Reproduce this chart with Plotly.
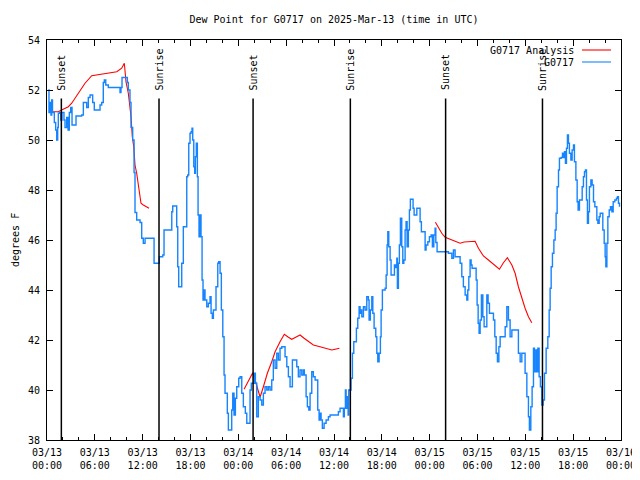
import pandas as pd
import plotly.graph_objects as go

START = "2025-03-13 00:00"
END = "2025-03-16 00:00"

# Observed dew point (G0717): hours after 2025-03-13 00:00 UTC, degrees F
obs_hours = [0.16, 0.25, 0.38, 0.50, 0.59, 0.69, 0.84, 0.92, 1.09, 1.22, 1.34, 1.42, 1.57, 1.72, 1.88,
             2.13, 2.26, 2.47, 2.64, 2.80, 2.97, 3.14, 3.30, 3.64, 4.35, 4.56, 4.77, 4.98, 5.18, 5.40,
             5.61, 5.73, 5.93, 6.44, 6.65, 6.86, 7.06, 7.19, 7.37, 7.69, 8.95, 9.16, 9.28, 9.41, 9.91,
             10.08, 10.20, 10.41, 10.54, 10.75, 10.92, 11.04, 11.25, 11.67, 11.88, 12.08, 12.30, 13.26,
             13.43, 13.96, 14.09, 14.52, 14.68, 15.43, 15.65, 15.77, 16.19, 16.27, 16.40, 16.52, 16.72,
             16.90, 17.10, 17.31, 17.53, 17.65, 17.78, 17.94, 18.07, 18.19, 18.28, 18.41, 18.53, 18.61,
             18.73, 18.86, 18.95, 19.07, 19.20, 19.32, 19.45, 19.57, 19.70, 19.82, 20.04, 20.24, 20.45,
             20.58, 20.74, 20.87, 21.20, 21.42, 21.54, 21.71, 21.87, 22.05, 22.21, 22.33, 22.46, 22.62,
             22.75, 23.05, 23.17, 23.30, 23.46, 23.63, 23.80, 24.05, 24.22, 24.43, 24.63, 24.88, 25.06,
             25.31, 25.47, 25.63, 25.81, 25.97, 26.14, 26.31, 26.51, 26.73, 26.94, 27.14, 27.35, 27.57,
             27.77, 27.98, 28.19, 28.39, 28.61, 28.82, 29.02, 29.23, 29.45, 29.65, 29.86, 30.08, 30.28,
             30.49, 30.70, 30.78, 31.24, 31.33, 31.53, 31.74, 31.96, 32.16, 32.28, 32.50, 32.66, 32.84,
             33.00, 33.21, 33.41, 33.63, 33.84, 33.96, 34.13, 34.25, 34.38, 34.54, 34.76, 35.01, 35.30,
             35.51, 36.35, 36.55, 36.76, 36.98, 37.18, 37.30, 37.43, 37.52, 37.68, 37.77, 37.85, 38.06,
             38.14, 38.31, 38.48, 38.64, 38.81, 38.98, 39.15, 39.27, 39.40, 39.49, 39.69, 39.90, 40.11,
             40.31, 40.40, 40.56, 40.74, 40.87, 41.03, 41.24, 41.37, 41.49, 41.66, 41.82, 41.91, 42.07,
             42.41, 42.54, 42.66, 42.75, 42.87, 43.04, 43.16, 43.45, 43.58, 43.75, 43.88, 43.95, 44.08,
             44.20, 44.33, 44.50, 44.63, 44.76, 44.92, 45.04, 45.17, 45.33, 45.46, 45.58, 45.76, 45.92,
             46.05, 46.26, 46.39, 46.59, 46.80, 46.96, 47.21, 47.43, 47.55, 47.77, 47.97, 48.18, 48.34,
             48.52, 48.68, 48.77, 48.93, 49.94, 50.35, 50.56, 50.78, 50.98, 51.19, 51.61, 51.82, 52.03,
             52.23, 52.45, 52.66, 52.78, 52.91, 53.07, 53.20, 53.32, 53.70, 53.83, 53.95, 54.08, 54.20,
             54.33, 54.49, 54.67, 54.83, 55.04, 55.17, 55.33, 55.50, 55.67, 55.87, 56.00, 56.17, 56.34,
             56.50, 56.68, 56.84, 57.25, 57.47, 57.68, 57.88, 58.09, 58.31, 58.93, 59.13, 59.35, 59.56,
             59.76, 59.97, 60.19, 60.39, 60.51, 60.69, 60.85, 61.02, 61.14, 61.32, 61.44, 61.57, 61.73,
             61.89, 62.07, 62.23, 62.40, 62.61, 62.82, 62.99, 63.11, 63.24, 63.40, 63.58, 63.74, 63.86,
             63.99, 64.16, 64.28, 64.49, 64.66, 64.78, 64.91, 65.03, 65.16, 65.28, 65.41, 65.53, 65.71,
             65.87, 66.04, 66.16, 66.34, 66.50, 66.62, 66.79, 66.96, 67.13, 67.29, 67.42, 67.54, 67.67,
             67.79, 67.92, 68.04, 68.22, 68.38, 68.55, 68.72, 68.97, 69.10, 69.26, 69.39, 69.60, 69.72,
             69.89, 70.01, 70.10, 70.23, 70.35, 70.52, 70.68, 70.86, 71.02, 71.23, 71.43, 71.56, 71.68,
             71.81]
obs_dewpt = [52.0, 51.1, 51.5, 51.0, 51.6, 51.1, 51.1, 50.7, 50.4, 50.0, 50.5, 51.07, 51.1, 50.8, 51.1,
             50.8, 50.5, 50.9, 50.4, 51.1, 51.3, 50.6, 50.6, 50.96, 51.0, 51.5, 51.5, 51.3, 51.7, 51.8,
             51.8, 51.5, 51.2, 51.2, 51.4, 51.5, 52.3, 52.4, 52.2, 52.1, 52.1, 51.9, 52.1, 52.5, 52.5,
             52.3, 52.0, 51.5, 50.5, 50.0, 48.7, 47.1, 46.8, 46.7, 46.07, 45.87, 46.07, 46.07,
             45.07, 45.07, 45.33, 45.4, 46.4, 46.4, 47.13, 47.36, 47.36, 46.53, 44.93, 44.13, 44.13,
             45.07, 46.53, 46.53, 48.53, 48.6, 49.87, 50.27, 50.33, 50.47, 50.0, 48.93, 48.67, 49.33,
             49.87, 48.53, 47.0, 46.13, 47.0, 46.13, 44.4, 43.6, 44.0, 43.6, 43.33, 43.47, 43.73,
             43.07, 42.87, 43.2, 44.13, 45.07, 45.13, 44.67, 43.2, 42.13, 40.6, 39.87, 39.87, 39.07,
             38.4, 38.4, 39.2, 39.87, 39.0, 39.67, 40.13, 40.47, 40.53, 39.87, 39.33, 39.07, 38.67,
             38.67, 40.0, 40.27, 40.27, 40.67, 40.27, 38.93, 39.73, 39.6, 39.4, 39.87, 40.13, 40.0,
             40.13, 40.0, 40.4, 41.2, 40.87, 41.47, 41.2, 41.67, 41.73, 41.73, 41.33, 40.93, 40.53,
             40.13, 40.13, 41.2, 41.2, 40.93, 40.53, 40.8, 40.6, 40.8, 40.6, 39.73, 39.33, 39.2,
             39.87, 40.73, 40.53, 40.4, 40.4, 39.2, 38.8, 39.07, 38.8, 38.47, 38.67, 38.8, 38.93,
             39.0, 39.0, 39.13, 39.27, 39.27, 38.93, 39.27, 40.0, 39.27, 39.73, 39.0, 40.0, 40.0,
             40.47, 41.47, 41.93, 41.93, 42.47, 42.87, 43.33, 43.07, 43.2, 42.93, 43.33, 43.2, 43.73,
             43.6, 42.8, 43.2, 43.73, 43.07, 42.47, 42.13, 41.47, 41.13, 41.47, 42.13, 43.2, 44.0,
             44.07, 44.6, 45.8, 46.33, 45.73, 45.2, 44.6, 44.6, 45.0, 44.9, 45.27, 44.07, 45.07,
             45.8, 46.87, 45.73, 45.07, 45.2, 46.4, 46.73, 45.73, 46.4, 47.2, 47.63, 47.63, 47.27,
             47.0, 47.0, 47.27, 47.27, 46.73, 46.33, 46.33, 45.6, 45.8, 45.93, 46.13, 46.2, 45.73,
             46.2, 46.47, 45.9, 45.53, 45.53, 45.47, 45.47, 45.27, 45.6, 45.33, 45.33, 45.07, 44.53,
             44.13, 43.8, 43.6, 44.0, 44.53, 45.2, 45.0, 44.87, 44.87, 44.4, 43.4, 42.67, 42.27,
             42.8, 43.8, 42.93, 42.53, 42.53, 43.8, 43.47, 43.07, 43.07, 43.07, 42.8, 42.13, 41.47,
             41.13, 41.73, 42.13, 42.13, 42.53, 43.33, 42.8, 42.13, 42.4, 42.4, 41.47, 41.13, 41.47,
             41.47, 40.67, 39.73, 38.93, 38.4, 39.33, 40.13, 41.67, 40.73, 41.6, 40.73, 41.67, 40.53,
             40.13, 39.4, 39.6, 40.67, 41.67, 42.13, 43.2, 44.07, 44.93, 45.47, 46.0, 46.4, 47.07,
             48.13, 48.8, 49.27, 49.3, 49.47, 49.3, 49.53, 49.07, 49.67, 50.2, 49.87, 49.47, 49.2,
             49.6, 49.8, 49.13, 48.4, 47.53, 47.2, 47.6, 47.6, 48.13, 48.53, 48.73, 48.8, 47.6,
             46.67, 47.13, 48.13, 48.4, 48.2, 47.53, 47.33, 46.8, 46.67, 46.93, 47.07, 47.07, 46.4,
             45.87, 45.33, 44.93, 45.87, 46.93, 47.2, 47.33, 47.13, 47.53, 47.6, 47.67, 47.73, 47.47,
             47.33]

# Analysis dew point (three runs, None = gap)
ana_hours = [0.66, 1.42, 1.84, 2.26, 2.67, 3.10, 3.93, 4.77, 5.61, 6.86, 7.69, 8.75, 9.37, 9.70, 9.91,
             10.20, 10.54, 10.70, 10.88, 11.04, 11.25, 11.46, 11.67, 11.79, 12.08, 12.51, 12.80,
             18.0,
             24.72, 25.26, 25.81, 26.10, 26.44, 26.73, 27.14, 27.64, 28.19, 28.61, 29.23, 29.77, 30.28,
             30.70, 31.20, 31.74, 32.25, 32.79, 33.41, 34.25, 35.09, 35.72, 36.14, 36.68,
             42.0,
             48.72, 49.10, 49.52, 49.94, 50.56, 51.19, 51.82, 52.32, 53.07, 53.70, 54.12, 54.74, 55.37,
             56.00, 56.75, 57.25, 57.75, 58.31, 58.72, 59.13, 59.56, 59.97, 60.39, 60.81]
ana_dewpt = [51.13, 51.13, 51.2, 51.27, 51.33, 51.47, 51.87, 52.27, 52.57, 52.64, 52.67, 52.73, 52.87,
             53.07, 52.33, 51.87, 50.93, 50.13, 49.73, 49.0, 48.67, 48.27, 47.73, 47.47, 47.4, 47.33,
             47.27,
             None,
             40.03, 40.33, 40.69, 40.4, 40.0, 39.71, 40.13, 40.67, 41.13, 41.53, 41.93, 42.23, 42.11,
             42.03, 42.11, 42.2, 42.07, 41.93, 41.8, 41.73, 41.67, 41.6, 41.63, 41.67,
             None,
             46.71, 46.47, 46.27, 46.11, 46.03, 45.93, 45.87, 45.92, 45.92, 45.95, 45.67, 45.36, 45.2,
             45.04, 44.83, 45.09, 45.29, 45.0, 44.67, 44.13, 43.67, 43.27, 42.93, 42.69]

# Sun events (hours after start)
sun_hours = [1.8, 14.05, 25.85, 38.05, 50.0, 62.15]
sun_labels = ["Sunset", "Sunrise", "Sunset", "Sunrise", "Sunset", "Sunrise"]

y_ticks = [38, 40, 42, 44, 46, 48, 50, 52, 54]

FONT = "DejaVu Sans Mono"
BLUE = "#1684ff"
RED = "#ff0000"

t0 = pd.Timestamp(START)
obs_t = [t0 + pd.Timedelta(hours=h) for h in obs_hours]
ana_t = [t0 + pd.Timedelta(hours=h) for h in ana_hours]
sun_t = [t0 + pd.Timedelta(hours=h) for h in sun_hours]

fig = go.Figure()
fig.add_trace(go.Scatter(x=ana_t, y=ana_dewpt, mode="lines", name="G0717 Analysis",
                         line=dict(color=RED, width=1.1), connectgaps=False, showlegend=False))
fig.add_trace(go.Scatter(x=obs_t, y=obs_dewpt, mode="lines", name="G0717",
                         line=dict(color=BLUE, width=1.4, shape="hv"), showlegend=False))

# The page body has an 8px margin, so the figure is sized to fill the rest of the window.
OFF = 8
FW, FH = 640 - OFF, 480 - OFF
L, R, T, B = 47 - OFF, 621 - OFF, 40 - OFF, 440 - OFF
PW, PH = R - L, B - T

def px(xpage):
    return (xpage - OFF - L) / PW

def py(ypage):
    return (B - (ypage - OFF)) / PH

shapes = []
annotations = []
for t, lab in zip(sun_t, sun_labels):
    shapes.append(dict(type="line", xref="x", yref="y", x0=t, x1=t, y0=38, y1=51.66,
                       line=dict(color="black", width=1.5)))
    annotations.append(dict(x=t, y=51.9, xref="x", yref="y", text=lab, textangle=-90,
                            showarrow=False, xanchor="center", yanchor="bottom",
                            font=dict(family=FONT, size=10, color="black")))

# legend (gnuplot style: text right-aligned, sample on the right)
for name, color, ypix in [("G0717 Analysis", RED, 50), ("G0717", BLUE, 62)]:
    annotations.append(dict(x=px(576), y=py(ypix), xref="paper", yref="paper", text=name,
                            showarrow=False, xanchor="right", yanchor="middle",
                            font=dict(family=FONT, size=10, color="black")))
    shapes.append(dict(type="line", xref="paper", yref="paper", x0=px(582), x1=px(611),
                       y0=py(ypix), y1=py(ypix), line=dict(color=color, width=1.1)))

annotations.append(dict(x=px(15), y=0.5, xref="paper", yref="paper", text="degrees F",
                        textangle=-90, showarrow=False, xanchor="center", yanchor="middle",
                        font=dict(family=FONT, size=10, color="black")))

fig.update_layout(
    width=FW, height=FH,
    margin=dict(l=L, r=FW - R, t=T, b=FH - B, autoexpand=False),
    paper_bgcolor="white", plot_bgcolor="white",
    font=dict(family=FONT, size=10, color="black"),
    title=dict(text="Dew Point for G0717 on 2025-Mar-13 (time in UTC)", x=0.5, xref="paper",
               y=1 - (19 - OFF) / FH, yref="container", xanchor="center", yanchor="middle",
               font=dict(family=FONT, size=10, color="black")),
    shapes=shapes, annotations=annotations,
    showlegend=False,
)
fig.update_xaxes(type="date", range=[START, END], showgrid=False, zeroline=False, automargin=False,
                 showline=True, linecolor="black", linewidth=1, mirror="allticks",
                 ticks="inside", ticklen=6, tickcolor="black", tickwidth=1, ticklabelstandoff=3,
                 dtick=6 * 3600 * 1000, tick0=START, tickformat="%m/%d<br>%H:%M",
                 minor=dict(dtick=2 * 3600 * 1000, ticks="inside", ticklen=3, tickcolor="black"),
                 tickfont=dict(family=FONT, size=10, color="black"))
fig.update_yaxes(range=[38, 54], tickvals=y_ticks, showgrid=False, zeroline=False, automargin=False,
                 showline=True, linecolor="black", linewidth=1, mirror="allticks",
                 ticks="inside", ticklen=6, tickcolor="black", tickwidth=1, ticklabelstandoff=4,
                 tickfont=dict(family=FONT, size=10, color="black"))

fig.write_html("out.html")
